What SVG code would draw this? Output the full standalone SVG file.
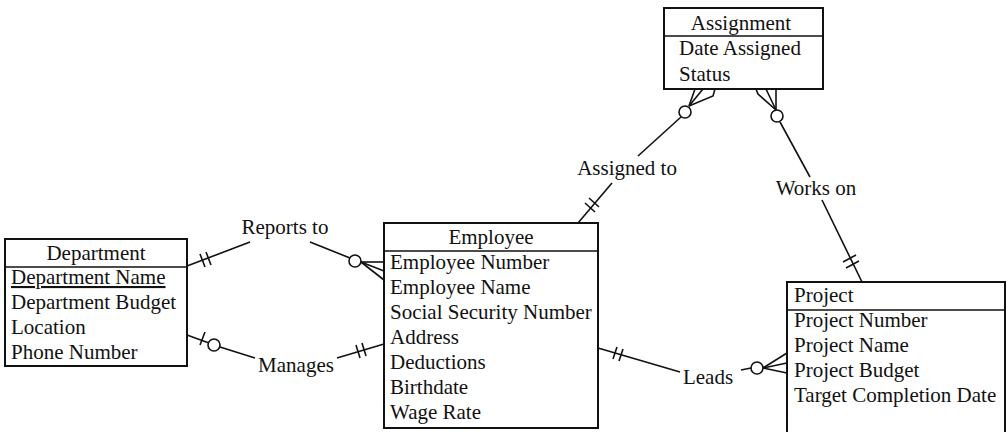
<svg xmlns="http://www.w3.org/2000/svg" width="1008" height="432" viewBox="0 0 1008 432">
  <style>
    text { font-family: "Liberation Serif", "Times New Roman", serif; font-size: 21px; fill: #111; }
    .title { text-anchor: middle; }
    .box { fill: #fff; stroke: #111; stroke-width: 2; }
    .sep { stroke: #111; stroke-width: 1.5; }
    .conn line, .conn polyline { stroke: #111; stroke-width: 1.6; fill: none; }
    .conn circle { fill: #fff; stroke: #111; stroke-width: 1.6; }
    .lbl { text-anchor: middle; }
  </style>
  <rect width="1008" height="432" fill="#fff"/>

  <!-- Department entity -->
  <g id="department">
    <rect class="box" x="5" y="239" width="182" height="127"/>
    <line class="sep" x1="5" y1="267" x2="187" y2="267"/>
    <text class="title" x="96" y="260">Department</text>
    <text x="11" y="284" text-decoration="underline">Department Name</text>
    <text x="11" y="309">Department Budget</text>
    <text x="11" y="334">Location</text>
    <text x="11" y="359">Phone Number</text>
  </g>

  <!-- Employee entity -->
  <g id="employee">
    <rect class="box" x="384" y="223" width="214" height="205"/>
    <line class="sep" x1="384" y1="251" x2="598" y2="251"/>
    <text class="title" x="491" y="244">Employee</text>
    <text x="390" y="269">Employee Number</text>
    <text x="390" y="294">Employee Name</text>
    <text x="390" y="319">Social Security Number</text>
    <text x="390" y="344">Address</text>
    <text x="390" y="369">Deductions</text>
    <text x="390" y="394">Birthdate</text>
    <text x="390" y="419">Wage Rate</text>
  </g>

  <!-- Assignment entity -->
  <g id="assignment">
    <rect class="box" x="664" y="8" width="159" height="81"/>
    <line class="sep" x1="664" y1="36" x2="823" y2="36"/>
    <text class="title" x="741" y="30">Assignment</text>
    <text x="679" y="55">Date Assigned</text>
    <text x="679" y="81">Status</text>
  </g>

  <!-- Project entity (open at the bottom edge) -->
  <g id="project">
    <polyline class="box" points="787,440 787,282 1005,282 1005,440"/>
    <line class="sep" x1="787" y1="310" x2="1005" y2="310"/>
    <text x="794" y="302">Project</text>
    <text x="794" y="327">Project Number</text>
    <text x="794" y="352">Project Name</text>
    <text x="794" y="377">Project Budget</text>
    <text x="794" y="402">Target Completion Date</text>
  </g>

  <!-- Relationships -->
  <g id="connectors" class="conn">
    <!-- Reports to: Department (one) to Employee (zero or many) -->
    <line x1="187" y1="266" x2="250" y2="242"/>
    <line x1="200" y1="254" x2="205" y2="267"/>
    <line x1="206" y1="252" x2="211" y2="265"/>
    <line x1="310" y1="242" x2="350" y2="258"/>
    <line x1="361" y1="262" x2="384" y2="262"/>
    <line x1="361" y1="262" x2="384" y2="271"/>
    <line x1="361" y1="262" x2="384" y2="280"/>
    <circle cx="355" cy="261" r="6"/>

    <!-- Manages: Department (zero or one) to Employee (one) -->
    <line x1="187" y1="335" x2="209" y2="343"/>
    <line x1="200" y1="345" x2="205" y2="332"/>
    <line x1="220" y1="347" x2="255" y2="358"/>
    <circle cx="214" cy="345" r="6"/>
    <line x1="337" y1="358" x2="384" y2="344"/>
    <line x1="356" y1="345" x2="360" y2="358"/>
    <line x1="362" y1="343" x2="366" y2="356"/>

    <!-- Assigned to: Employee (one) to Assignment (zero or many) -->
    <line x1="578" y1="223" x2="612" y2="183"/>
    <line x1="585" y1="203" x2="595" y2="212"/>
    <line x1="589" y1="198" x2="599" y2="207"/>
    <line x1="638" y1="156" x2="681" y2="117"/>
    <circle cx="685" cy="112" r="6"/>
    <line x1="689" y1="106" x2="695" y2="89"/>
    <line x1="689" y1="106" x2="703" y2="89"/>
    <polyline points="689,106 713,96 715,89"/>

    <!-- Works on: Project (one) to Assignment (zero or many) -->
    <polyline points="776,110 758,94 756,89"/>
    <line x1="776" y1="110" x2="766" y2="89"/>
    <line x1="776" y1="110" x2="776" y2="89"/>
    <circle cx="777" cy="116" r="6"/>
    <line x1="780" y1="122" x2="810" y2="177"/>
    <line x1="822" y1="200" x2="862" y2="282"/>
    <line x1="843" y1="262" x2="856" y2="255"/>
    <line x1="846" y1="268" x2="859" y2="261"/>

    <!-- Leads: Employee (one) to Project (zero or many) -->
    <line x1="598" y1="348" x2="680" y2="372"/>
    <line x1="613" y1="359" x2="617" y2="347"/>
    <line x1="619" y1="361" x2="623" y2="349"/>
    <line x1="741" y1="370" x2="751" y2="368"/>
    <circle cx="757" cy="368" r="6"/>
    <line x1="763" y1="368" x2="787" y2="353"/>
    <line x1="763" y1="368" x2="787" y2="363"/>
    <line x1="763" y1="368" x2="787" y2="373"/>

    <!-- Relationship names -->
    <text class="lbl" x="285" y="234">Reports to</text>
    <text class="lbl" x="296" y="372">Manages</text>
    <text class="lbl" x="627" y="175">Assigned to</text>
    <text class="lbl" x="816" y="195">Works on</text>
    <text class="lbl" x="708" y="384">Leads</text>
  </g>
</svg>
